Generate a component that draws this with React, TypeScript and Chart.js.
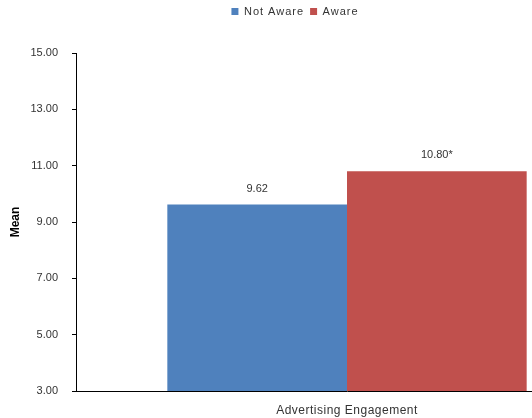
import React, { useEffect, useRef } from "react";
import { Chart, registerables } from "chart.js";

Chart.register(...registerables);

const categories = ["Advertising Engagement"];
const seriesNames = ["Not Aware", "Aware"];
const notAwareValues = [9.62];
const awareValues = [10.8];
const significanceMarks = ["", "*"];
const yTicks = [3, 5, 7, 9, 11, 13, 15];

const FONT = "'Liberation Sans', Arial, sans-serif";
const TEXT = "#333333";

function withSpacing(obj: any, method: string, spacing: string) {
  const orig = obj[method].bind(obj);
  obj[method] = function (...args: any[]) {
    const ctx = this.ctx;
    const prev = ctx.letterSpacing;
    ctx.letterSpacing = spacing;
    try {
      return orig(...args);
    } finally {
      ctx.letterSpacing = prev;
    }
  };
}

export default function App() {
  const ref = useRef<HTMLCanvasElement | null>(null);

  useEffect(() => {
    const canvas = ref.current;
    if (!canvas) return;

    const legendPlugin = {
      id: "legendTweak",
      beforeLayout(chart: any) {
        const lg = chart.legend;
        if (lg && !lg.__wrapped) {
          const orig = lg.fit.bind(lg);
          lg.fit = function () {
            orig();
            this.height = 53;
          };
          withSpacing(lg, "fit", "1px");
          withSpacing(lg, "draw", "1px");
          lg.__wrapped = true;
        }
      },
      afterLayout(chart: any) {
        const lg = chart.legend;
        if (lg) {
          const desired = 295;
          const cur = (lg.left + lg.right) / 2;
          const d = desired - cur;
          lg.left += d;
          lg.right += d;
        }
        const xs = chart.scales.x;
        if (xs && !xs.__wrapped) {
          withSpacing(xs, "drawLabels", "0.5px");
          xs.__wrapped = true;
        }
      },
    };

    const labelPlugin = {
      id: "valueLabels",
      afterDatasetsDraw(chart: any) {
        const ctx = chart.ctx;
        ctx.save();
        ctx.font = `11px ${FONT}`;
        ctx.fillStyle = TEXT;
        ctx.textAlign = "center";
        ctx.textBaseline = "middle";
        chart.data.datasets.forEach((ds: any, di: number) => {
          const meta = chart.getDatasetMeta(di);
          meta.data.forEach((el: any, i: number) => {
            const v = ds.data[i] as number;
            ctx.fillText(v.toFixed(2) + significanceMarks[di], el.x, el.y - 16);
          });
        });
        ctx.restore();
      },
    };

    const chart = new Chart(canvas, {
      type: "bar",
      data: {
        labels: categories,
        datasets: [
          {
            label: seriesNames[0],
            data: notAwareValues,
            backgroundColor: "#4F81BD",
            borderWidth: 0,
            barPercentage: 1,
            categoryPercentage: 0.663,
          },
          {
            label: seriesNames[1],
            data: awareValues,
            backgroundColor: "#C0504D",
            borderWidth: 0,
            barPercentage: 1,
            categoryPercentage: 0.663,
          },
        ],
      },
      options: {
        animation: false,
        responsive: false,
        devicePixelRatio: 1,
        layout: { padding: { left: 0, right: 2, top: 0, bottom: 0 } },
        plugins: {
          legend: {
            display: true,
            position: "top",
            labels: {
              boxWidth: 7,
              boxHeight: 7,
              padding: 6,
              color: TEXT,
              font: { family: FONT, size: 11 },
            },
          },
          tooltip: { enabled: false },
        },
        scales: {
          x: {
            type: "category",
            grid: { display: true, drawOnChartArea: false, drawTicks: false },
            border: { display: true, color: "#000000", width: 1 },
            ticks: {
              color: TEXT,
              font: { family: FONT, size: 12 },
              padding: 12,
              maxRotation: 0,
            },
            afterFit(scale: any) {
              scale.height = 27;
            },
          },
          y: {
            min: 3,
            max: 15,
            afterBuildTicks(scale: any) {
              scale.ticks = yTicks.map((v) => ({ value: v }));
            },
            grid: {
              display: true,
              drawOnChartArea: false,
              drawTicks: true,
              tickLength: 4,
              color: "#000000",
            },
            border: { display: true, color: "#000000", width: 1 },
            ticks: {
              color: TEXT,
              font: { family: FONT, size: 11 },
              padding: 14,
              callback: (v: any) => Number(v).toFixed(2),
            },
            title: {
              display: true,
              text: "Mean",
              color: "#000000",
              font: { family: FONT, size: 12, weight: "bold" },
              padding: { top: 8, bottom: 0 },
            },
            afterFit(scale: any) {
              scale.width = 76;
            },
          },
        },
      },
      plugins: [legendPlugin, labelPlugin],
    });

    return () => chart.destroy();
  }, []);

  return (
    <div
      style={{
        position: "fixed",
        left: 0,
        top: 0,
        width: 532,
        height: 418,
        overflow: "hidden",
        background: "#ffffff",
      }}
    >
      <canvas ref={ref} width={620} height={418} style={{ display: "block" }} />
    </div>
  );
}
